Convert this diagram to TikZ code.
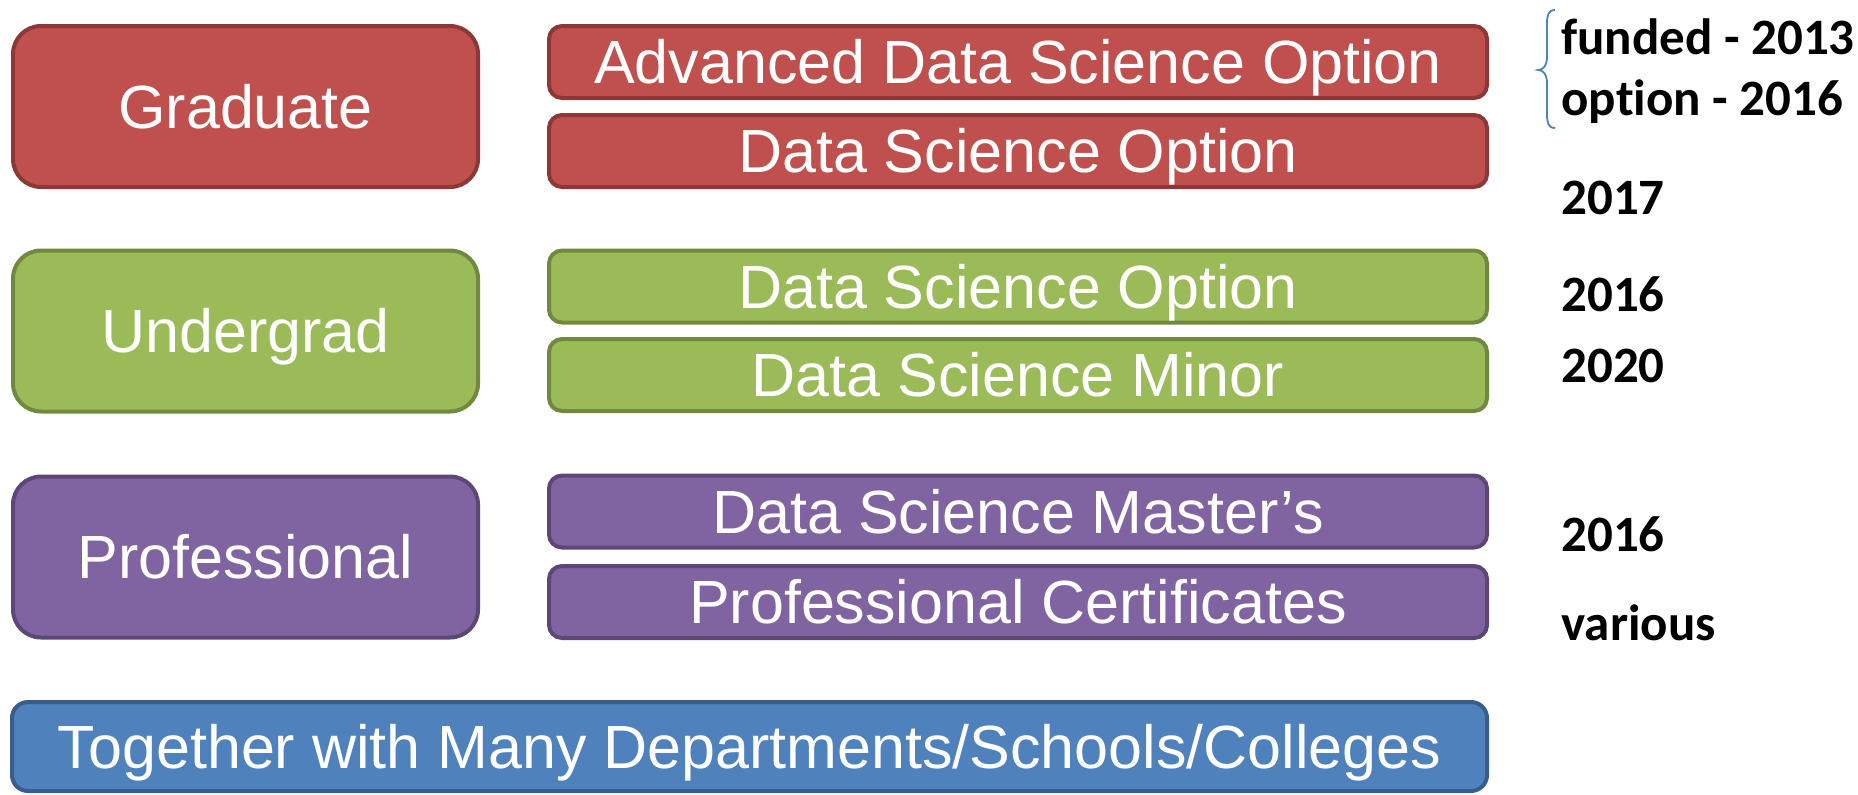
\documentclass[tikz,border=0pt]{standalone}
\usepackage{fontspec}
\setmainfont{Liberation Sans}
\newfontfamily\notefont[Ligatures=NoCommon]{Carlito}
\definecolor{redfill}{HTML}{C0504D}
\definecolor{reddraw}{HTML}{8C3836}
\definecolor{greenfill}{HTML}{9BBB59}
\definecolor{greendraw}{HTML}{71893F}
\definecolor{purplefill}{HTML}{8064A2}
\definecolor{purpledraw}{HTML}{5C4776}
\definecolor{bluefill}{HTML}{4F81BD}
\definecolor{bluedraw}{HTML}{385D8A}
\tikzset{
  box/.style={draw, line width=2pt, inner sep=0pt, text=white,
    font=\fontsize{30.5pt}{36pt}\selectfont, text height=21.9pt, text depth=0pt, align=center},
  bigbox/.style={box, rounded corners=14pt, minimum width=232.5pt, minimum height=80.5pt},
  smallbox/.style={box, rounded corners=6.5pt, minimum width=469pt, minimum height=36pt},
  redbox/.style={fill=redfill, draw=reddraw},
  greenbox/.style={fill=greenfill, draw=greendraw},
  purplebox/.style={fill=purplefill, draw=purpledraw},
  bluebox/.style={fill=bluefill, draw=bluedraw},
  note/.style={anchor=base west, inner sep=0pt, font=\notefont\bfseries\fontsize{25.5pt}{30pt}\selectfont}
}
\begin{document}
\begin{tikzpicture}[x=0.5pt, y=-0.5pt]
\useasboundingbox (0,0) rectangle (1858,794);
% Graduate
\node[bigbox, redbox] (grad) at (245.5,106.5) {Graduate};
\node[smallbox, redbox] (adv) at (1018,62) {Advanced Data Science Option};
\node[smallbox, redbox] (dsog) at (1018,151) {Data Science Option};
% Undergrad
\node[bigbox, greenbox] (ug) at (245.5,331) {Undergrad};
\node[smallbox, greenbox] (dsou) at (1018,286.5) {Data Science Option};
\node[smallbox, greenbox] (minor) at (1018,375) {Data Science Minor};
% Professional
\node[bigbox, purplebox] (prof) at (245.5,557) {Professional};
\node[smallbox, purplebox] (mast) at (1018,511.5) {Data Science Master’s};
\node[smallbox, purplebox] (cert) at (1018,602) {Professional Certificates};
% Together
\node[box, bluebox, rounded corners=8pt, minimum width=737.5pt, minimum height=44.5pt] (tog) at (749.5,746.5) {Together with Many Departments/Schools/Colleges};
% Notes
\node[note] (n1) at (1561,54) {funded - 2013};
\node[note] (n2) at (1561,115) {option - 2016};
\node[note] (n3) at (1561,214) {2017};
\node[note] (n4) at (1561,311) {2016};
\node[note] (n5) at (1561,382) {2020};
\node[note] (n6) at (1561,551) {2016};
\node[note] (n7) at (1561,640) {various};
% brace
\coordinate (bt) at (1555,10);
\coordinate (bm) at (1538,70);
\coordinate (bb) at (1555,128);
\draw[bluefill, line width=0.9pt] (bt) .. controls (1548,10) and (1547,16) .. (1547,24)
  -- (1547,57) .. controls (1547,66) and (1543,70) .. (bm)
  .. controls (1543,70) and (1547,74) .. (1547,83)
  -- (1547,114) .. controls (1547,122) and (1548,128) .. (bb);
\end{tikzpicture}
\end{document}
